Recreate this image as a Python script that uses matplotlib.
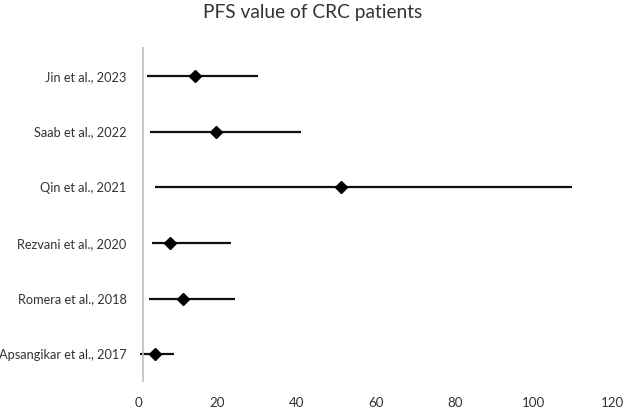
import matplotlib.pyplot as plt

studies = ["Apsangikar et al., 2017", "Romera et al., 2018", "Rezvani et al., 2020",
           "Qin et al., 2021", "Saab et al., 2022", "Jin et al., 2023"]
pfs = [4.3, 11.3, 8.0, 51.3, 19.7, 14.3]
low = [0.4, 2.7, 3.4, 4.2, 2.9, 2.1]
high = [9.1, 24.4, 23.5, 109.6, 41.1, 30.3]
xticks = [0, 20, 40, 60, 80, 100, 120]

plt.rcParams['font.family'] = ['Lato', 'DejaVu Sans']

fig = plt.figure(figsize = (6.3, 4.13), dpi = 100)
ax = fig.add_axes([0.2198, 0.075, 0.753, 0.811])

ypos = list(range(1, len(studies) + 1))
ax.hlines(ypos, low, high, color = '#111111', linewidth = 1.6)
ax.plot(pfs, ypos, 'D', color = 'black', markersize = 6)

# vertical axis line sits slightly right of zero in the original
ax.axvline(1.2, color = '#bfbfbf', linewidth = 1.2)

ax.set_xlim(0, 120)
ax.set_ylim(0.5, 6.52)
ax.set_xticks(xticks)
ax.set_yticks(ypos)
ax.set_yticklabels(studies)
ax.tick_params(length = 0, labelsize = 9.2, colors = '#333333')
ax.tick_params(axis = 'x', labelsize = 9.6, pad = 11)
ax.tick_params(axis = 'y', pad = 8.5)
for s in ax.spines.values():
    s.set_visible(False)

fig.suptitle("PFS value of CRC patients", fontsize = 13.8, x = 0.497, y = 0.99, color = '#333333')

fig.savefig('out.png', dpi = 100)
